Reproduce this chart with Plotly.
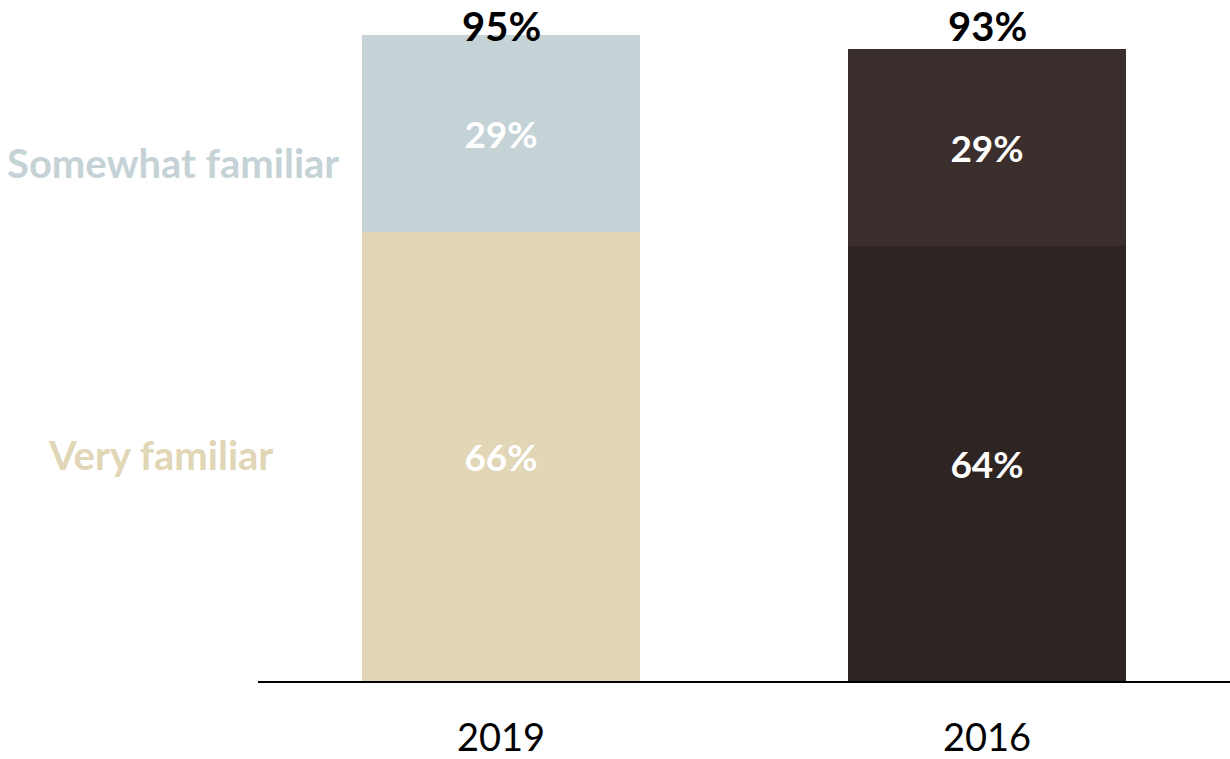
import plotly.graph_objects as go

years = ["2019", "2016"]
very_familiar = [66, 64]
somewhat_familiar = [29, 29]
totals = [95, 93]

very_colors = ["#E1D6B6", "#2E2422"]
somewhat_colors = ["#C5D3D7", "#3A2F2D"]

FONT = "Lato"

fig = go.Figure()
fig.add_trace(go.Bar(
    x=years, y=very_familiar, name="Very familiar",
    marker=dict(color=very_colors, line=dict(width=0)),
    text=[f"{v}%" for v in very_familiar], textposition="inside",
    insidetextanchor="middle", textangle=0,
    textfont=dict(family=FONT, size=37, color="white", weight="bold"),
    width=0.572,
))
fig.add_trace(go.Bar(
    x=years, y=somewhat_familiar, name="Somewhat familiar",
    marker=dict(color=somewhat_colors, line=dict(width=0)),
    text=[f"{v}%" for v in somewhat_familiar], textposition="inside",
    insidetextanchor="middle", textangle=0,
    textfont=dict(family=FONT, size=37, color="white", weight="bold"),
    width=0.572,
))

for i, t in enumerate(totals):
    fig.add_annotation(x=i, y=0.962, xref="x", yref="paper", text=f"{t}%",
                       showarrow=False, yanchor="middle", xanchor="center",
                       font=dict(family=FONT, size=40, color="black", weight="bold"))

fig.add_annotation(x=(173 - 258) / 972, y=0.761, xref="paper", yref="paper",
                   text="Somewhat familiar", showarrow=False, xanchor="center", yanchor="middle",
                   font=dict(family=FONT, size=40, color="#C5D3D7", weight="bold"))
fig.add_annotation(x=(160 - 258) / 972, y=0.332, xref="paper", yref="paper",
                   text="Very familiar", showarrow=False, xanchor="center", yanchor="middle",
                   font=dict(family=FONT, size=40, color="#E1D6B6", weight="bold"))

fig.update_layout(
    barmode="stack",
    width=1230, height=759,
    margin=dict(l=258, r=0, t=0, b=76),
    paper_bgcolor="white", plot_bgcolor="white",
    showlegend=False,
    xaxis=dict(type="category", showline=True, linecolor="black", linewidth=2, ticks="",
               tickfont=dict(family=FONT, size=38, color="black"), ticklabelstandoff=22,
               showgrid=False, zeroline=False, range=[-0.5, 1.5], fixedrange=True),
    yaxis=dict(range=[0, 100.15], visible=False, showgrid=False, zeroline=False),
    uniformtext=dict(mode=False),
)

fig.write_html("out.html", config={"displayModeBar": False},
               post_script="document.body.style.margin='0';document.body.style.overflow='hidden';")
